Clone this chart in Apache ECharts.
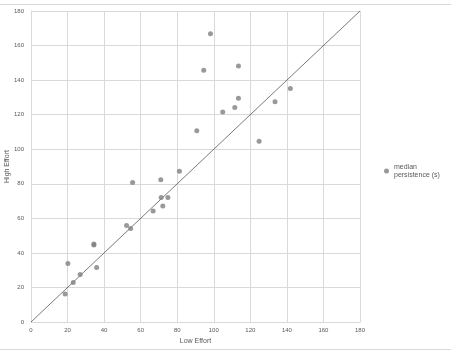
<!DOCTYPE html>
<html><head><meta charset="utf-8">
<script src="https://cdn.jsdelivr.net/npm/echarts@6/dist/echarts.min.js"></script>
<style>html,body{margin:0;padding:0;background:#fff}#c{width:451px;height:351px}</style>
</head><body><div id="c"></div>
<script>
const lowEffort  = [18.7, 20.2, 23.1, 26.9, 34.4, 34.4, 35.9, 52.3, 54.5, 55.6, 66.8, 71.0, 71.2, 72.1, 74.9, 81.2, 90.7, 94.5, 98.2, 104.9, 113.5, 113.5, 111.5, 133.5, 141.9, 124.8];
const highEffort = [16.2, 33.8, 22.8, 27.5, 44.6, 45.2, 31.5, 55.9, 54.1, 80.8, 64.2, 82.3, 72.1, 67.1, 72.1, 87.2, 110.7, 145.7, 166.8, 121.6, 148.1, 129.5, 124.1, 127.5, 135.1, 104.6];
const refLine = [[0, 0], [180, 180]];
const seriesName = 'median persistence (s)';
const xTitle = 'Low Effort';
const yTitle = 'High Effort';

const chart = echarts.init(document.getElementById('c'), null, {renderer: 'canvas'});
const pts = lowEffort.map((x, i) => [x, highEffort[i]]);
const txt = '#595959';
const font = 'Liberation Sans';
chart.setOption({
  animation: false,
  grid: {left: 31, right: 91, top: 11, bottom: 29, containLabel: false, outerBoundsMode: 'none'},
  xAxis: {
    type: 'value', min: 0, max: 180, interval: 20,
    name: xTitle, nameLocation: 'middle', nameGap: 16, nameMoveOverlap: false,
    nameTextStyle: {color: txt, fontSize: 7, fontFamily: font},
    axisLine: {show: true, lineStyle: {color: '#d9d9d9'}},
    axisTick: {show: false},
    axisLabel: {color: txt, fontSize: 6, fontFamily: font, margin: 5},
    splitLine: {show: true, lineStyle: {color: '#d9d9d9', width: 1}}
  },
  yAxis: {
    type: 'value', min: 0, max: 180, interval: 20,
    name: yTitle, nameLocation: 'middle', nameGap: 20, nameRotate: 90, nameMoveOverlap: false,
    nameTextStyle: {color: txt, fontSize: 7, fontFamily: font},
    axisLine: {show: true, lineStyle: {color: '#d9d9d9'}},
    axisTick: {show: false},
    axisLabel: {color: txt, fontSize: 6, fontFamily: font, margin: 7},
    splitLine: {show: true, lineStyle: {color: '#d9d9d9', width: 1}}
  },
  legend: {
    show: true, orient: 'vertical', left: 379, top: 158,
    itemWidth: 5, itemHeight: 5, itemGap: 2,
    textStyle: {color: txt, fontSize: 7, fontFamily: font, lineHeight: 8, width: 50, overflow: 'break'},
    data: [{name: seriesName, icon: 'circle'}]
  },
  graphic: [
    {type: 'line', shape: {x1: 0, y1: 4.5, x2: 451, y2: 4.5}, style: {stroke: '#d9d9d9', lineWidth: 1}},
    {type: 'line', shape: {x1: 0, y1: 349.5, x2: 451, y2: 349.5}, style: {stroke: '#d9d9d9', lineWidth: 1}}
  ],
  series: [
    {
      type: 'line', data: refLine, symbol: 'none', silent: true,
      lineStyle: {color: '#404040', width: 0.7}, z: 1
    },
    {
      name: seriesName, type: 'scatter', data: pts,
      symbol: 'circle', symbolSize: 5,
      itemStyle: {color: '#7f7f7f'}, z: 3
    }
  ]
});
</script></body></html>
